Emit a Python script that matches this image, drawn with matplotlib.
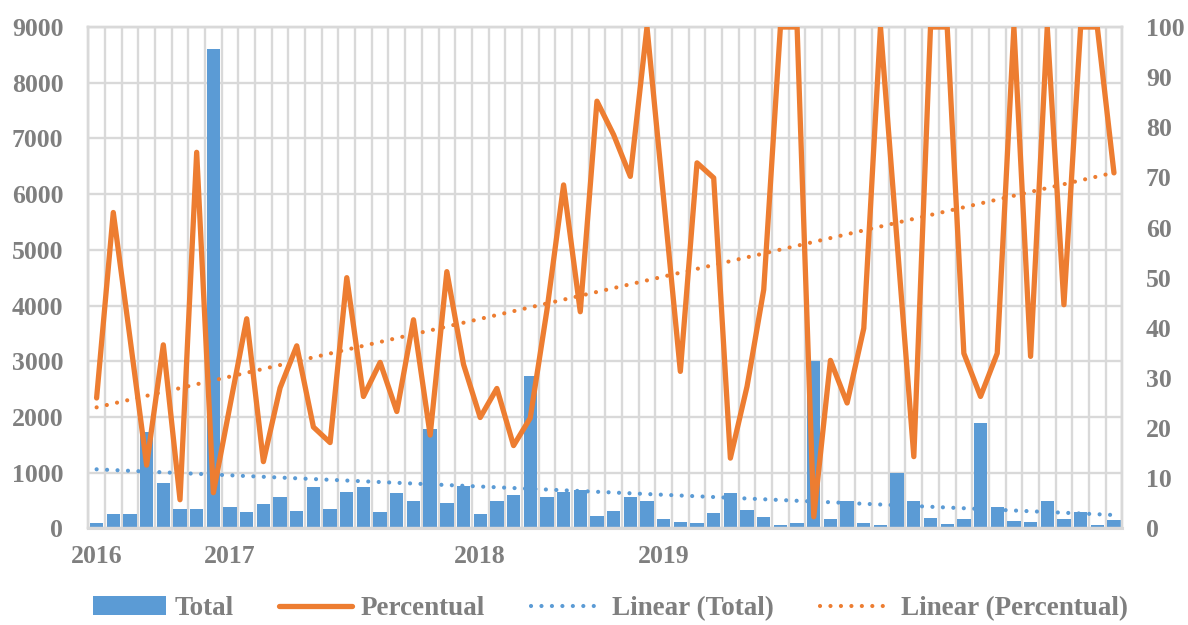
import numpy as np
import matplotlib
matplotlib.use("Agg")
import matplotlib.pyplot as plt

# ---- data ----
total = [90, 250, 260, 1730, 810, 340, 345, 8600, 390, 290, 440, 560, 310,
         740, 340, 650, 745, 295, 635, 490, 1780, 455, 760, 257, 490,
         590, 2730, 565, 660, 685, 222, 305, 560, 490, 168, 120, 102, 275,
         635, 335, 198, 60, 90, 3000, 168, 490, 90, 60, 990, 490,
         180, 84, 168, 1890, 389, 138, 120, 485, 168, 293, 60, 144]
percentual = [26, 63, 38, 12.6, 36.6, 5.7, 75, 7.1, 24.5, 41.8, 13.3, 28, 36.4,
              20.2, 17.1, 50, 26.3, 33.1, 23.3, 41.6, 18.6, 51.2, 32.7, 22.1, 27.9,
              16.5, 22, 43.5, 68.5, 43.2, 85.2, 78.5, 70.2, 100, 65.7, 31.3, 72.9, 69.9,
              14, 28.3, 47.6, 100, 100, 2.3, 33.5, 25, 39.9, 100, 57, 14.3,
              100, 100, 34.9, 26.3, 34.9, 100, 34.3, 100, 44.6, 100, 100, 70.9]
year_labels = {0: "2016", 8: "2017", 23: "2018", 34: "2019"}

blue = "#5B9BD5"
orange = "#ED7D31"
gray = "#7F7F7F"
grid_c = "#D9D9D9"

plt.rcParams['font.family'] = ['Liberation Serif', 'DejaVu Serif']
plt.rcParams['font.weight'] = 'bold'

n = len(total)
x = np.arange(n)

fig = plt.figure(figsize=(11.88, 6.25), dpi=100)
ax = fig.add_axes([0.0743, 0.1547, 0.8704, 0.8021])
ax2 = ax.twinx()

ax.set_zorder(1)
ax2.set_zorder(2)
ax.patch.set_visible(False)

# grid
for i in range(n + 1):
    ax.axvline(i - 0.5, color=grid_c, lw=1.7, zorder=0)
for v in range(0, 9001, 1000):
    ax.axhline(v, color=grid_c, lw=1.7, zorder=0)

bars = ax.bar(x, total, width=0.8, color=blue, zorder=2, label="Total")

# trends (least-squares linear fits)
ct = np.polyfit(x, total, 1)
cp = np.polyfit(x, percentual, 1)

ax2_line, = ax2.plot(x, percentual, color=orange, lw=3.8, solid_joinstyle='round',
                     solid_capstyle='round', zorder=3, label="Percentual")
tl_tot, = ax.plot(x, np.polyval(ct, x), color=blue, lw=3.0, linestyle=(0, (0.01, 2.5)),
                  dash_capstyle='round', zorder=3, label="Linear (Total)")
tl_pct, = ax2.plot(x, np.polyval(cp, x), color=orange, lw=3.0, linestyle=(0, (0.01, 2.5)),
                   dash_capstyle='round', zorder=3, label="Linear (Percentual)")

ax.set_xlim(-0.5, n - 0.5)
ax.set_ylim(0, 9000)
ax2.set_ylim(0, 100)
ax.set_yticks(range(0, 9001, 1000))
ax2.set_yticks(range(0, 101, 10))
ax.set_xticks(list(year_labels.keys()))
ax.set_xticklabels(list(year_labels.values()))

for a in (ax, ax2):
    for s in a.spines.values():
        s.set_color(grid_c)
        s.set_linewidth(1.7)
    a.tick_params(length=0, labelsize=18.5, labelcolor=gray)
ax.tick_params(axis='y', pad=18)
ax2.tick_params(axis='y', pad=17)
ax.tick_params(axis='x', pad=12)
ax.spines['bottom'].set_linewidth(2.2)

leg = fig.legend([bars, ax2_line, tl_tot, tl_pct],
                 ["Total", "Percentual", "Linear (Total)", "Linear (Percentual)"],
                 loc='center', bbox_to_anchor=(0.514, 0.026), ncol=4, frameon=False,
                 fontsize=19.5, handlelength=2.7, columnspacing=1.7, handletextpad=0.3,
                 borderpad=0.1)
for t in leg.get_texts():
    t.set_color(gray)

fig.savefig("out.png", dpi=100)
